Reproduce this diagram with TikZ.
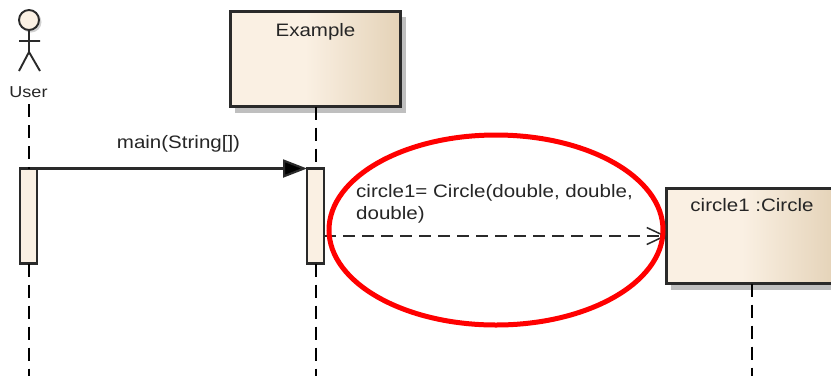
\documentclass[tikz,border=0pt]{standalone}
\usepackage{fontspec}
\setmainfont[FakeStretch=1.14]{Liberation Sans}
\usetikzlibrary{arrows.meta,shapes.geometric}
\definecolor{boxlight}{HTML}{FAF0E3}
\definecolor{boxdark}{HTML}{E4D2B7}
\definecolor{inkline}{HTML}{2A2A2A}
\pgfdeclarehorizontalshading{boxshade}{100bp}{color(0bp)=(boxlight); color(25bp)=(boxlight); color(47bp)=(boxlight); color(75bp)=(boxdark); color(100bp)=(boxdark)}
\tikzset{
  x=1pt,y=-1pt,
  label text/.style={font=\fontsize{18}{22}\selectfont,text=black!85,inner sep=0pt,anchor=base},
  objbox/.style={draw=inkline,line width=2.1pt,shading=boxshade,shading angle=0,minimum height=95pt,inner sep=0pt,outer sep=0pt,anchor=north west},
  objshadow/.style={fill=black!25,draw=none,minimum height=96pt,inner sep=0pt,outer sep=0pt,anchor=north west},
  activation/.style={draw=inkline,line width=2.1pt,fill=boxlight,minimum width=17pt,minimum height=95pt,inner sep=0pt,outer sep=0pt,anchor=north west},
  lifeline/.style={draw=black,line width=1.5pt,dash pattern=on 13pt off 8pt},
  actorline/.style={draw=inkline,line width=1.9pt},
  syncmsg/.style={draw=inkline,line width=2.1pt,-{Triangle[length=24pt,width=18pt,fill=black]}},
  retmsg/.style={draw=inkline,line width=1.5pt,dash pattern=on 12pt off 7pt,-{Straight Barb[length=18pt,width=17pt,line width=1.5pt]}},
  highlight/.style={draw=red,line width=5pt,ellipse,minimum width=334pt,minimum height=190pt,inner sep=0pt,outer sep=0pt},
}
\begin{document}
\begin{tikzpicture}
\useasboundingbox (0,0) rectangle (831,376);
\clip (0,0) rectangle (831,376);
\fill[white] (0,0) rectangle (831,376);
% actor
\coordinate (hip) at (29,52);
\coordinate (armL) at (19,41);
\coordinate (armR) at (40,41);
\coordinate (legL) at (19,71);
\coordinate (legR) at (40,71);
\fill[black!18] (31,22) circle (10.5pt);
\node[circle,draw=inkline,line width=1.9pt,fill=boxlight,minimum size=20pt,inner sep=0pt,outer sep=0pt] (head) at (29,20) {};
\draw[actorline] (head.south) -- (hip) -- (legL) (hip) -- (legR) (armL) -- (armR);
\node[label text] (user) at (28.5,97.5) {\fontsize{15.8}{18}\selectfont User};
% lifelines
\coordinate (userTop) at (29,104);
\coordinate (userBottom) at (29,376);
\coordinate (exBottom) at (316,376);
\coordinate (circBottom) at (752,376);
% shadows
\node[objshadow,minimum width=171pt] (exShadow) at (235,17) {};
\node[objshadow,minimum width=171pt] (circShadow) at (671,194) {};
% boxes
\node[objbox,minimum width=170pt] (example) at (230.5,11.5) {};
\node[objbox,minimum width=171pt] (circle1) at (666.5,188.5) {};
\node[label text] (exampleText) at (315.5,36) {Example};
\node[label text] (circleText) at (752,211) {circle1 :Circle};
% activations
\node[activation] (actUser) at (20,168.5) {};
\node[activation] (actEx) at (307,168.5) {};
% lifeline segments
\draw[lifeline] (userTop) -- (actUser.north -| userTop);
\draw[lifeline] (actUser.south -| userTop) -- (userBottom);
\draw[lifeline] (example.south -| exBottom) -- (actEx.north -| exBottom);
\draw[lifeline] (actEx.south -| exBottom) -- (exBottom);
\draw[lifeline] (circle1.south -| circBottom) -- (circBottom);
% messages
\draw[syncmsg] (actUser.north east) -- (actEx.north west);
\node[label text] (mainText) at (178.5,148) {main(String[])};
\coordinate (retStart) at (324,236);
\draw[retmsg] (retStart) -- (retStart -| circle1.west);
\node[label text,anchor=base west] (retText1) at (356,197) {circle1= Circle(double, double,};
\node[label text,anchor=base west] (retText2) at (356,219) {double)};
% highlight
\node[highlight] (ring) at (496,230) {};
\end{tikzpicture}
\end{document}
